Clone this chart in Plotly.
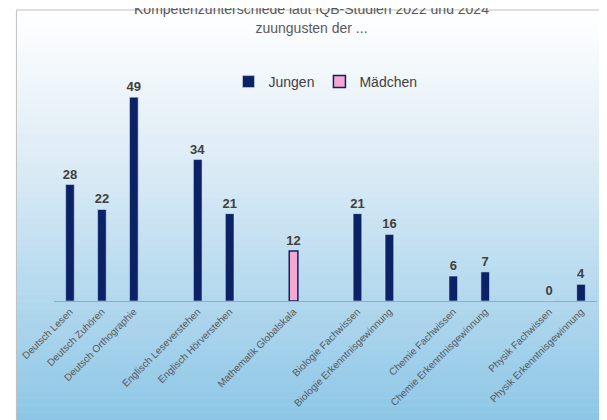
import plotly.graph_objects as go

categories = ["Deutsch Lesen", "Deutsch Zuhören", "Deutsch Orthographie", " ",
              "Englisch Leseverstehen", "Englisch Hörverstehen", "  ",
              "Mathematik Globalskala", "   ",
              "Biologie Fachwissen", "Biologie Erkenntnisgewinnung", "    ",
              "Chemie Fachwissen", "Chemie Erkenntnisgewinnung", "     ",
              "Physik Fachwissen", "Physik Erkenntnisgewinnung"]
jungen = [28, 22, 49, None, 34, 21, None, None, None, 21, 16, None, 6, 7, None, 0, 4]
maedchen = [None]*7 + [12] + [None]*9

def lbl(v):
    return [("" if x is None else "<b>%d</b>" % x) for x in v]

W, H, L, R, T, B = 607, 420, 40, 18, 85, 127
pw, ph = W - L - R, H - T - B
def px(x): return (x - L) / pw
def py(y): return (H - B - y) / ph

def mix(c1, c2, t):
    return "rgb(%d,%d,%d)" % tuple(round(a + (b - a) * t) for a, b in zip(c1, c2))

shapes = []
n = 60
top, bot = 2, 418
for i in range(n):
    y0 = top + (bot - top) * i / n
    y1 = top + (bot - top) * (i + 1) / n + 0.5
    t = i / (n - 1)
    if t < 0.35:
        col = mix((255, 255, 255), (222, 236, 246), t / 0.35)
    else:
        col = mix((222, 236, 246), (140, 198, 230), (t - 0.35) / 0.65)
    shapes.append(dict(type="rect", xref="paper", yref="paper", x0=px(2), x1=px(605),
                       y0=py(y1), y1=py(y0), fillcolor=col, line=dict(width=0), layer="below"))
shapes.append(dict(type="rect", xref="paper", yref="paper", x0=px(2), x1=px(605),
                   y0=py(418), y1=py(2), line=dict(color="#bfbfbf", width=1), layer="below"))

fig = go.Figure()
fig.add_trace(go.Bar(x=categories, y=jungen, name="Jungen", marker_color="#0b2366",
                     width=0.27, text=lbl(jungen), textposition="outside", constraintext="none",
                     textfont=dict(size=13, color="#404040", family="Liberation Sans"),
                     cliponaxis=False))
fig.add_trace(go.Bar(x=categories, y=maedchen, name="Mädchen", marker_color="#f5a8cf",
                     marker_line=dict(color="#0b2366", width=1.5),
                     width=0.27, text=lbl(maedchen), textposition="outside", constraintext="none",
                     textfont=dict(size=13, color="#404040", family="Liberation Sans"),
                     cliponaxis=False))
fig.update_traces(texttemplate="%{text}")
fig.update_layout(
    width=W, height=H, barmode="overlay",
    paper_bgcolor="white", plot_bgcolor="rgba(0,0,0,0)",
    margin=dict(l=L, r=R, t=T, b=B),
    title=dict(text="Kompetenzunterschiede laut IQB-Studien 2022 und 2024<br>zuungusten der ...",
               x=0.5, xanchor="center", y=0.985, yanchor="top",
               font=dict(size=14, color="#595959", family="Liberation Sans")),
    legend=dict(orientation="h", x=0.5, xanchor="center", y=py(74), yanchor="middle",
                font=dict(size=14, color="#404040", family="Liberation Sans"), bgcolor="rgba(0,0,0,0)"),
    xaxis=dict(tickangle=-45, tickfont=dict(size=10, color="#595959", family="Liberation Sans"),
               showline=True, linecolor="#a6a6a6", ticks=""),
    yaxis=dict(range=[0, 50], visible=False),
    shapes=shapes,
)
fig.write_html("out.html")
